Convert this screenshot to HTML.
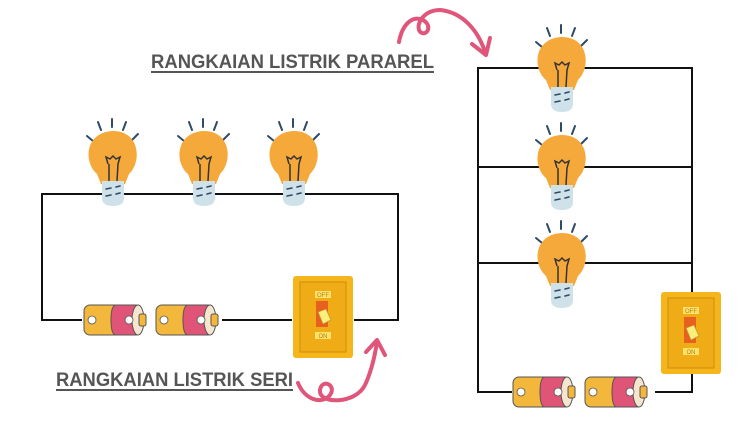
<!DOCTYPE html>
<html><head><meta charset="utf-8"><style>
html,body{margin:0;padding:0;background:#fff;width:750px;height:422px;overflow:hidden}
svg{display:block}
</style></head><body>
<svg width="750" height="422" viewBox="0 0 750 422" xmlns="http://www.w3.org/2000/svg">
<defs>
<g id="bulb">
  <g stroke="#2d4a66" stroke-width="2" stroke-linecap="round">
    <line x1="-26" y1="-18" x2="-20" y2="-13"/>
    <line x1="-15" y1="-32" x2="-12" y2="-24"/>
    <line x1="-1" y1="-35" x2="-1" y2="-27"/>
    <line x1="13" y1="-32" x2="10" y2="-24"/>
    <line x1="25" y1="-20" x2="19" y2="-14"/>
  </g>
  <path d="M-16,20 C-30,8 -28,-22 0,-23 C27,-23 29,8 16,20 L12,30 L-12,30 Z" fill="#f6a93b"/>
  <path d="M-11,27 L11,27 L11,44 Q11,52 0,52 Q-11,52 -11,44 Z" fill="#cfe2ea"/>
  <path d="M-5,10 L-7,3 L-3,5 L0,2 L3,5 L7,3 L5,10 L4,27 M-4,10 L-4,27" fill="none" stroke="#333" stroke-width="1.5"/>
  <g stroke="#2d4a66" stroke-width="1.6" stroke-linecap="round">
    <line x1="-7" y1="35" x2="-2" y2="34"/><line x1="3" y1="33" x2="7" y2="32"/>
    <line x1="-7" y1="42" x2="-2" y2="41"/><line x1="3" y1="40" x2="7" y2="39"/>
  </g>
</g>
<g id="bat">
  <rect x="0" y="0" width="40" height="30" rx="6" fill="#f3b73c" stroke="#555" stroke-width="1"/>
  <path d="M32,0 L52,0 Q58,0 58,15 Q58,30 52,30 L32,30 Q27,30 27,15 Q27,0 32,0Z" fill="#e05577" stroke="#555" stroke-width="1"/>
  <ellipse cx="54" cy="15" rx="6" ry="15" fill="#f7e6cf" stroke="#555" stroke-width="1"/>
  <rect x="55" y="9" width="7" height="12" rx="2" fill="#f3b73c" stroke="#555" stroke-width="1"/>
  <circle cx="8" cy="15" r="4" fill="#fff" stroke="#555" stroke-width="0.8"/>
  <circle cx="45" cy="15" r="4" fill="#fff" stroke="#555" stroke-width="0.8"/>
</g>
<g id="sw">
  <rect x="0" y="0" width="60" height="82" rx="3" fill="#f5b51c"/>
  <rect x="7" y="6" width="46" height="70" fill="#f0ac16" stroke="#d9930e" stroke-width="1.2"/>
  <rect x="22" y="15" width="16" height="7" fill="#fde36a"/>
  <text x="30" y="21" font-family="Liberation Sans, sans-serif" font-size="6" fill="#b87b10" text-anchor="middle">OFF</text>
  <rect x="23" y="25" width="12" height="26" fill="#e8601e"/>
  <path d="M25,36 L33,33 L38,44 L30,48 Z" fill="#fcf07a" stroke="#c8902a" stroke-width="0.8"/>
  <rect x="22" y="56" width="16" height="7" fill="#fde36a"/>
  <text x="30" y="62" font-family="Liberation Sans, sans-serif" font-size="6" fill="#b87b10" text-anchor="middle">ON</text>
</g>
</defs>

<!-- Left series circuit -->
<g stroke="#111" stroke-width="2" fill="none">
  <polyline points="82,320 42,320 42,194 398,194 398,320 354,320"/>
  <line x1="222" y1="320" x2="292" y2="320"/>
</g>
<use href="#bulb" x="113" y="154"/>
<use href="#bulb" x="204" y="154"/>
<use href="#bulb" x="294" y="154"/>
<use href="#bat" x="84" y="305"/>
<use href="#bat" x="156" y="305"/>
<use href="#sw" x="293" y="276"/>

<text x="56" y="386" font-family="Liberation Sans, sans-serif" font-weight="bold" font-size="19" fill="#555" textLength="237" lengthAdjust="spacingAndGlyphs">RANGKAIAN LISTRIK SERI</text>
<line x1="56" y1="390" x2="293" y2="390" stroke="#555" stroke-width="2"/>
<path d="M298,383 C305,400 322,405 330,395 C337,385 322,378 320,390 C318,404 355,405 365,385 C372,370 375,355 377,342" fill="none" stroke="#e0557a" stroke-width="4" stroke-linecap="round"/>
<path d="M366,352 L377,340 L385,355" fill="none" stroke="#e0557a" stroke-width="4" stroke-linecap="round" stroke-linejoin="round"/>

<!-- Right parallel circuit -->
<g stroke="#111" stroke-width="2" fill="none">
  <polyline points="692,292 692,68 478,68 478,392 512,392"/>
  <line x1="478" y1="167" x2="692" y2="167"/>
  <line x1="478" y1="263" x2="692" y2="263"/>
  <polyline points="655,392 692,392 692,373"/>
</g>
<use href="#bulb" x="562" y="60"/>
<use href="#bulb" x="562" y="158"/>
<use href="#bulb" x="562" y="256"/>
<use href="#bat" x="513" y="377"/>
<use href="#bat" x="585" y="377"/>
<use href="#sw" x="661" y="292"/>

<text x="151" y="68" font-family="Liberation Sans, sans-serif" font-weight="bold" font-size="19" fill="#555" textLength="283" lengthAdjust="spacingAndGlyphs">RANGKAIAN LISTRIK PARAREL</text>
<line x1="151" y1="72" x2="434" y2="72" stroke="#555" stroke-width="2"/>
<path d="M399,42 C402,25 412,15 423,20 C432,25 428,35 422,33 C414,30 420,10 440,10 C462,12 478,30 485,52" fill="none" stroke="#e0557a" stroke-width="4" stroke-linecap="round"/>
<path d="M472,44 L486,55 L490,38" fill="none" stroke="#e0557a" stroke-width="4" stroke-linecap="round" stroke-linejoin="round"/>
</svg>
</body></html>
